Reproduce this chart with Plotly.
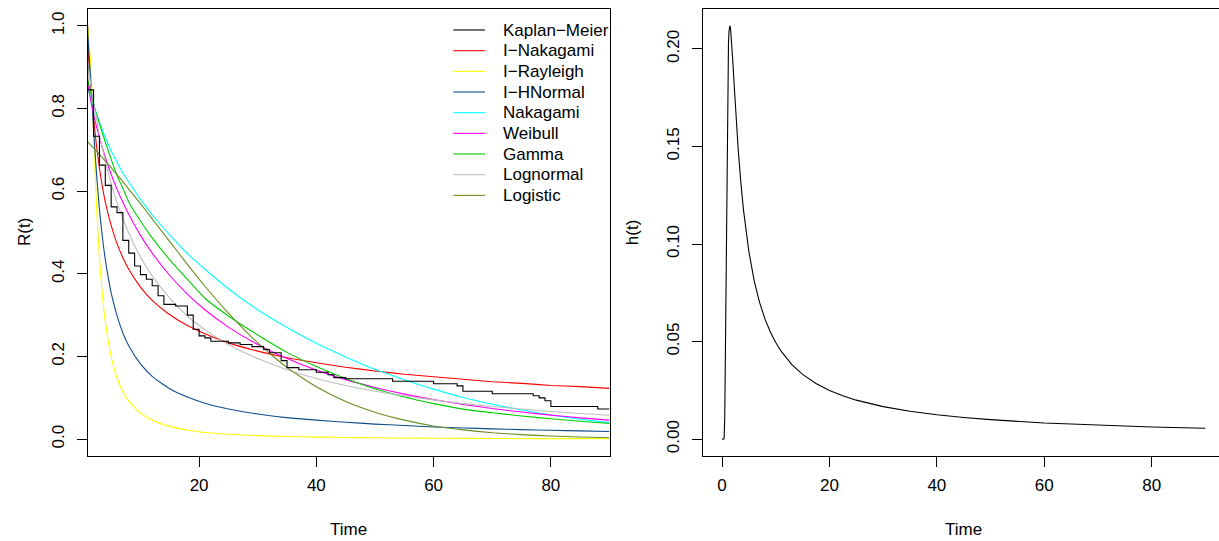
import plotly.graph_objects as go

W, H = 1219, 541

# ---- survival panel data -------------------------------------------------
t = [1, 1.5, 2, 2.5, 3, 3.5, 4, 5, 6, 7, 8, 10, 12, 15, 18, 21, 25, 30, 35, 40,
     45, 50, 55, 60, 65, 70, 75, 80, 85, 90]

r_inakagami = [0.953, 0.861, 0.778, 0.710, 0.656, 0.611, 0.574, 0.517, 0.473, 0.439,
               0.411, 0.368, 0.336, 0.301, 0.275, 0.255, 0.233, 0.213, 0.197, 0.185,
               0.174, 0.165, 0.157, 0.151, 0.145, 0.139, 0.135, 0.130, 0.127, 0.123]
r_irayleigh = [0.997, 0.91, 0.74, 0.565, 0.44, 0.35, 0.285, 0.20, 0.148, 0.115,
               0.092, 0.063, 0.046, 0.031, 0.022, 0.016, 0.012, 0.0085, 0.0064, 0.005,
               0.004, 0.0033, 0.0027, 0.0023, 0.002, 0.0017, 0.0015, 0.0013, 0.0012, 0.001]
r_ihnormal = [0.979, 0.874, 0.750, 0.643, 0.556, 0.489, 0.435, 0.354, 0.299, 0.257,
              0.226, 0.182, 0.152, 0.122, 0.102, 0.087, 0.073, 0.061, 0.052, 0.046,
              0.041, 0.0365, 0.033, 0.0295, 0.027, 0.025, 0.023, 0.0215, 0.020, 0.0185]
r_nakagami = [0.850, 0.827, 0.807, 0.787, 0.767, 0.748, 0.730, 0.698, 0.670, 0.644,
              0.622, 0.580, 0.543, 0.494, 0.449, 0.411, 0.364, 0.313, 0.270, 0.232,
              0.199, 0.169, 0.144, 0.121, 0.101, 0.0846, 0.0707, 0.0584, 0.0483, 0.040]
r_weibull = [0.860, 0.820, 0.786, 0.757, 0.730, 0.705, 0.682, 0.641, 0.605, 0.573,
             0.544, 0.493, 0.450, 0.396, 0.351, 0.313, 0.271, 0.229, 0.195, 0.167,
             0.144, 0.125, 0.109, 0.0957, 0.0841, 0.0741, 0.0656, 0.0581, 0.0516, 0.046]
r_gamma = [0.870, 0.840, 0.811, 0.786, 0.763, 0.741, 0.719, 0.677, 0.638, 0.607,
           0.574, 0.528, 0.487, 0.434, 0.387, 0.341, 0.298, 0.252, 0.210, 0.176,
           0.147, 0.122, 0.102, 0.086, 0.0726, 0.0639, 0.0561, 0.0493, 0.0433, 0.038]
r_lognormal = [0.911, 0.861, 0.816, 0.775, 0.737, 0.704, 0.673, 0.619, 0.573, 0.534,
               0.499, 0.441, 0.395, 0.341, 0.298, 0.265, 0.229, 0.195, 0.168, 0.147,
               0.130, 0.116, 0.105, 0.095, 0.086, 0.079, 0.073, 0.067, 0.062, 0.058]
r_logistic = [0.720, 0.712, 0.705, 0.697, 0.689, 0.681, 0.673, 0.657, 0.640, 0.623,
              0.605, 0.570, 0.533, 0.478, 0.423, 0.370, 0.305, 0.233, 0.173, 0.127,
              0.091, 0.065, 0.046, 0.032, 0.0225, 0.0156, 0.0109, 0.0076, 0.0052, 0.0036]

# Kaplan-Meier estimate (step function)
km_time = [0, 1, 2, 3, 4, 5, 6, 7, 8, 9, 10, 11, 12, 13, 14, 16, 18, 19, 20, 21, 22,
           25, 27, 29, 31, 32, 34, 35, 37, 40, 42, 43, 45, 53, 60, 64, 65, 70, 77, 78,
           79, 80, 88, 90]
km_surv = [1.0, 0.845, 0.733, 0.663, 0.614, 0.562, 0.548, 0.481, 0.450, 0.419, 0.398,
           0.387, 0.371, 0.347, 0.326, 0.322, 0.300, 0.266, 0.250, 0.245, 0.237, 0.233,
           0.229, 0.224, 0.217, 0.209, 0.190, 0.173, 0.168, 0.162, 0.156, 0.149, 0.146,
           0.140, 0.134, 0.129, 0.116, 0.110, 0.105, 0.100, 0.093, 0.079, 0.073, 0.073]

# ---- hazard panel data ---------------------------------------------------
h_time = [0, 0.1, 0.2, 0.3, 0.35, 0.4, 0.45, 0.5, 0.55, 0.6, 0.65, 0.7, 0.75, 0.8,
          0.85, 0.9, 0.95, 1.0, 1.1, 1.2, 1.3, 1.4, 1.45, 1.5, 1.6, 1.8, 2.0, 2.25,
          2.5, 3, 3.5, 4, 5, 6, 7, 8, 9, 10, 11, 12, 13, 15, 17.5, 20, 22.5, 25,
          27.5, 30, 35, 40, 45, 50, 60, 70, 80, 90]
h_value = [0, 0, 0, 0.000003, 0.0001, 0.00093, 0.00403, 0.0111, 0.0230, 0.0391,
           0.0581, 0.0784, 0.0986, 0.1178, 0.1353, 0.1507, 0.1641, 0.1754, 0.1924,
           0.2031, 0.2091, 0.2116, 0.2118, 0.2116, 0.2098, 0.2030, 0.1941, 0.1820,
           0.1702, 0.1490, 0.1316, 0.1174, 0.0961, 0.0810, 0.0700, 0.0615, 0.0549,
           0.0495, 0.0451, 0.0414, 0.0382, 0.0332, 0.0285, 0.0249, 0.0222, 0.0200,
           0.0182, 0.0167, 0.0143, 0.0125, 0.0111, 0.0100, 0.0083, 0.0071, 0.0062,
           0.0056]

series_names = ["Kaplan\u2212Meier", "I\u2212Nakagami", "I\u2212Rayleigh", "I\u2212HNormal",
                "Nakagami", "Weibull", "Gamma", "Lognormal", "Logistic"]
series_colors = ["#000000", "#FF0000", "#FFFF00", "#104E8B", "#00FFFF", "#FF00FF",
                 "#00CD00", "#BEBEBE", "#6B8E23"]

FONT = "Liberation Sans, Arial, Helvetica, sans-serif"
FS = 17
LW = 1.1


def px(x):
    return x / W


def py(y):
    return 1 - y / H


fig = go.Figure()

curves = [r_inakagami, r_irayleigh, r_ihnormal, r_nakagami, r_weibull, r_gamma,
          r_lognormal, r_logistic]
for name, col, vals in zip(series_names[1:], series_colors[1:], curves):
    fig.add_trace(go.Scatter(x=t, y=vals, mode="lines", name=name,
                             line=dict(color=col, width=LW, shape="spline", smoothing=0.5),
                             xaxis="x", yaxis="y", showlegend=False))

fig.add_trace(go.Scatter(x=km_time, y=km_surv, mode="lines", name=series_names[0],
                         line=dict(color="#000000", width=LW, shape="hv"),
                         xaxis="x", yaxis="y", showlegend=False))

fig.add_trace(go.Scatter(x=h_time, y=h_value, mode="lines", name="h(t)",
                         line=dict(color="#000000", width=LW),
                         xaxis="x2", yaxis="y2", showlegend=False))

axis_common = dict(showgrid=False, zeroline=False, showline=True, linecolor="#000000",
                   linewidth=1, ticks="outside", ticklen=10, tickwidth=1,
                   tickcolor="#000000",
                   tickfont=dict(family=FONT, size=FS, color="#000000"))

left_dom = [px(87.7), px(609.5)]
right_dom = [px(702.7), 1.0]
y_dom = [py(455.7), py(9.3)]

fig.update_layout(
    width=W, height=H,
    margin=dict(l=0, r=0, t=0, b=0),
    paper_bgcolor="#FFFFFF", plot_bgcolor="#FFFFFF",
    xaxis=dict(domain=left_dom, range=[1, 90], tickvals=[20, 40, 60, 80],
               mirror=True, anchor="y", ticklabelstandoff=4, **axis_common),
    yaxis=dict(domain=y_dom, range=[-0.04, 1.04], tickvals=[0, 0.2, 0.4, 0.6, 0.8, 1.0],
               ticktext=["0.0", "0.2", "0.4", "0.6", "0.8", "1.0"], tickangle=-90,
               mirror=True, anchor="x", ticklabelstandoff=6, **axis_common),
    xaxis2=dict(domain=right_dom, range=[-3.6, 92.54], tickvals=[0, 20, 40, 60, 80],
                mirror=True, anchor="y2", ticklabelstandoff=4, **axis_common),
    yaxis2=dict(domain=y_dom, range=[-0.00847, 0.2203],
                tickvals=[0, 0.05, 0.10, 0.15, 0.20],
                ticktext=["0.00", "0.05", "0.10", "0.15", "0.20"], tickangle=-90,
                mirror=False, anchor="x2", ticklabelstandoff=6, **axis_common),
)

# axis titles
title_font = dict(family=FONT, size=FS, color="#000000")
ann = [
    dict(text="Time", x=px(348.6), y=py(529), xref="paper", yref="paper",
         xanchor="center", yanchor="middle", showarrow=False, font=title_font),
    dict(text="Time", x=px(963.5), y=py(529), xref="paper", yref="paper",
         xanchor="center", yanchor="middle", showarrow=False, font=title_font),
    dict(text="R(t)", x=px(24.5), y=py(232.5), xref="paper", yref="paper",
         xanchor="center", yanchor="middle", textangle=-90, showarrow=False,
         font=title_font),
    dict(text="h(t)", x=px(632.7), y=py(232.5), xref="paper", yref="paper",
         xanchor="center", yanchor="middle", textangle=-90, showarrow=False,
         font=title_font),
]

# legend (top right of the survival panel)
shapes = []
row0, step = 30.0, 20.67
for i, (name, col) in enumerate(zip(series_names, series_colors)):
    yy = row0 + i * step
    shapes.append(dict(type="line", xref="paper", yref="paper",
                       x0=px(453.3), x1=px(485), y0=py(yy), y1=py(yy),
                       line=dict(color=col, width=LW)))
    ann.append(dict(text=name, x=px(501), y=py(yy), xref="paper", yref="paper",
                    xanchor="left", yanchor="middle", showarrow=False,
                    font=title_font))

fig.update_layout(annotations=ann, shapes=shapes)

fig.write_html("out.html")
